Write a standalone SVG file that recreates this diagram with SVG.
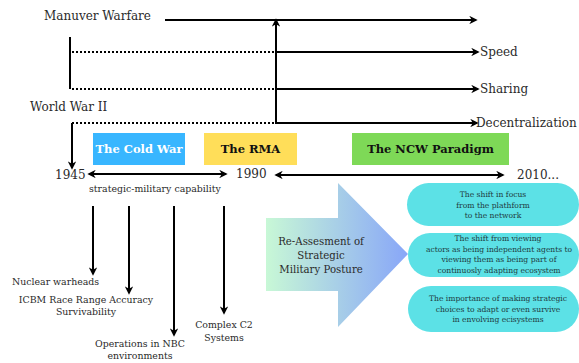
<svg xmlns="http://www.w3.org/2000/svg" width="579" height="363" viewBox="0 0 579 363">
<defs>
<marker id="ah" viewBox="0 0 10 10" refX="8" refY="5" markerWidth="4.200" markerHeight="4.200" orient="auto-start-reverse" markerUnits="strokeWidth">
<path d="M0,0 L10,5 L0,10 L3,5 z" fill="#000"/>
</marker>
<linearGradient id="grad" x1="0" y1="0" x2="1" y2="0">
<stop offset="0" stop-color="#c8f8d6"/>
<stop offset="1" stop-color="#88a6f8"/>
</linearGradient>
<style>
text{font-family:"DejaVu Serif","Liberation Serif",serif;fill:#2a2a2a;}
.lbl{font-size:12px;}
.sm{font-size:9.400px;}
.big{font-size:10.200px;}
.tiny{font-size:7.600px;fill:#1e3a40;}
.ln{stroke:#000;stroke-width:2;fill:none;}
.arr{marker-end:url(#ah);}
.dot{stroke:#000;stroke-width:2;stroke-dasharray:2 2;fill:none;}
.bx{font-size:11.500px;font-weight:bold;text-anchor:middle;}
.mid{text-anchor:middle;}
</style>
</defs>

<g id="connectors">
<line class="ln arr" x1="165" y1="20" x2="476" y2="20"/>
<line class="ln" x1="70" y1="37" x2="70" y2="89"/>
<line class="dot" x1="72" y1="52" x2="275" y2="52"/>
<line class="dot" x1="72" y1="89" x2="275" y2="89"/>
<line class="dot" x1="72" y1="123" x2="275" y2="123"/>
<line class="ln arr" x1="275" y1="52" x2="478" y2="52"/>
<line class="ln arr" x1="275" y1="89" x2="478" y2="89"/>
<line class="ln arr" x1="275" y1="123" x2="477" y2="123"/>
<line class="ln arr" x1="276" y1="124" x2="276" y2="20"/>
<line class="ln arr" x1="72" y1="123" x2="72" y2="168"/>
<line class="ln arr" x1="89" y1="174" x2="226" y2="174" style="marker-start:url(#ah)"/>
<line class="ln arr" x1="276" y1="175" x2="503" y2="175" style="marker-start:url(#ah)"/>
<line class="ln arr" x1="93" y1="206" x2="93" y2="274"/>
<line class="ln arr" x1="129" y1="206" x2="129" y2="293"/>
<line class="ln arr" x1="174" y1="206" x2="174" y2="335"/>
<line class="ln arr" x1="224" y1="206" x2="224" y2="313"/>
</g>

<g id="manuver"><text class="lbl" x="44" y="20">Manuver Warfare</text></g>
<g id="ww2"><text class="lbl" x="30" y="111">World War II</text></g>
<g id="speed"><text class="lbl" x="480" y="56">Speed</text></g>
<g id="sharing"><text class="lbl" x="480" y="93">Sharing</text></g>
<g id="decentralization"><text class="lbl" x="476" y="127">Decentralization</text></g>

<g id="coldwar">
<rect x="93" y="133" width="92" height="32" fill="#38b6ff"/>
<text class="bx" x="139" y="153" style="fill:#fff">The Cold War</text>
</g>
<g id="rma">
<rect x="204" y="133" width="93" height="32" fill="#ffde59"/>
<text class="bx" x="250.500" y="153" style="fill:#111">The RMA</text>
</g>
<g id="ncw">
<rect x="352" y="133" width="157" height="32" fill="#7ed957"/>
<text class="bx" x="430.500" y="153" style="fill:#111">The NCW Paradigm</text>
</g>

<g id="y1945"><text class="lbl" x="55" y="179">1945</text></g>
<g id="y1990"><text class="lbl" x="236" y="178">1990</text></g>
<g id="y2010"><text class="lbl" x="517" y="179">2010...</text></g>
<g id="capability"><text class="sm" x="89" y="192">strategic-military capability</text></g>

<g id="nuclear"><text class="sm" x="12" y="285">Nuclear warheads</text></g>
<g id="icbm"><text class="sm mid" x="86" y="303">ICBM Race Range Accuracy</text><text class="sm mid" x="86" y="315">Survivability</text></g>
<g id="nbc"><text class="sm mid" x="140" y="347">Operations in NBC</text><text class="sm mid" x="140" y="359">environments</text></g>
<g id="c2"><text class="sm mid" x="224" y="328">Complex C2</text><text class="sm mid" x="224" y="341">Systems</text></g>

<g id="reassess">
<path d="M266,218 L338,218 L338,183 L408,254 L338,327 L338,291 L266,291 z" fill="url(#grad)"/>
<text class="big mid" x="321" y="245">Re-Assesment of</text>
<text class="big mid" x="321" y="259">Strategic</text>
<text class="big mid" x="321" y="273">Military Posture</text>
</g>

<g id="e1">
<rect x="407" y="183" width="172" height="43" rx="21.500" fill="#5ce1e6"/>
<text class="tiny mid" x="493" y="197">The shift in focus</text>
<text class="tiny mid" x="493" y="208">from the plathform</text>
<text class="tiny mid" x="493" y="218">to the network</text>
</g>
<g id="e2">
<rect x="408" y="233" width="171" height="44" rx="22" fill="#5ce1e6"/>
<text class="tiny mid" x="498" y="241">The shift from viewing</text>
<text class="tiny mid" x="499" y="252" textLength="146" lengthAdjust="spacingAndGlyphs">actors as being  independent agents to</text>
<text class="tiny mid" x="499" y="262">viewing them as being part of</text>
<text class="tiny mid" x="499" y="273">continuosly adapting ecosystem</text>
</g>
<g id="e3">
<rect x="408" y="286" width="171" height="46" rx="23" fill="#5ce1e6"/>
<text class="tiny mid" x="498" y="301">The importance of making strategic</text>
<text class="tiny mid" x="498" y="312">choices to adapt or even survive</text>
<text class="tiny mid" x="498" y="322">in envolving ecisystems</text>
</g>
</svg>
